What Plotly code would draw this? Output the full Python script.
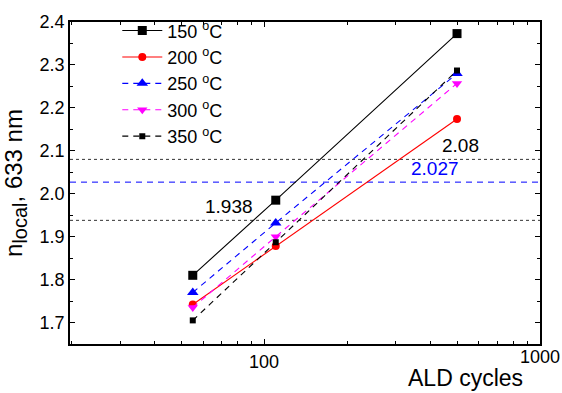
import plotly.graph_objects as go

# ALD cycles and local refractive index at 633 nm per deposition temperature
cycles = [55, 110, 500]
labels = ["150 <sup>o</sup>C", "200 <sup>o</sup>C", "250 <sup>o</sup>C", "300 <sup>o</sup>C", "350 <sup>o</sup>C"]
n_150 = [1.810, 1.985, 2.373]
n_200 = [1.742, 1.878, 2.174]
n_250 = [1.770, 1.932, 2.280]
n_300 = [1.735, 1.900, 2.257]
n_350 = [1.705, 1.887, 2.287]

# reference index levels
ref_levels = [2.08, 2.027, 1.938]
ref_texts = ["2.08", "2.027", "1.938"]

# x tick labels
xtick_vals = [100, 1000]
xtick_text = ["100", "1000"]

series = [n_150, n_200, n_250, n_300, n_350]
colors = ["black", "red", "blue", "magenta", "black"]
dashes = ["solid", "solid", "6px,5px", "6px,5px", "6px,5px"]
symbols = ["square", "circle", "triangle-up", "triangle-down", "square"]
msizes = [9, 8, 10, 9, 6]

FONT = "Liberation Sans, Arial, sans-serif"

fig = go.Figure()

# horizontal reference lines
ref_colors = ["#333333", "blue", "#333333"]
ref_dash = ["3px,3px", "6px,5px", "3px,3px"]
for lvl, c, d in zip(ref_levels, ref_colors, ref_dash):
    fig.add_shape(type="line", xref="paper", x0=0, x1=1, yref="y", y0=lvl, y1=lvl,
                  line=dict(color=c, width=1, dash=d), layer="below")

for name, ys, c, d, s, ms in zip(labels, series, colors, dashes, symbols, msizes):
    fig.add_trace(go.Scatter(
        x=cycles, y=ys, name=name, mode="lines+markers",
        line=dict(color=c, width=1.1, dash=d),
        marker=dict(symbol=s, size=ms, color=c),
    ))

# value labels on the reference lines (x given in log10 units)
label_x = [2.71, 2.62, 1.872]
label_colors = ["black", "blue", "black"]
for lx, lvl, txt, c in zip(label_x, ref_levels, ref_texts, label_colors):
    fig.add_annotation(x=lx, y=lvl, xref="x", yref="y", text=txt,
                       showarrow=False, yanchor="bottom", yshift=1,
                       font=dict(size=19, color=c, family=FONT))

# x tick labels; the upper decade label sits slightly higher
fig.add_annotation(x=2.0, y=0, xref="x", yref="paper", text=xtick_text[0],
                   showarrow=False, yanchor="top", yshift=-6,
                   font=dict(size=18, color="black", family=FONT))
fig.add_annotation(x=3.0, y=0, xref="x", yref="paper", text=xtick_text[1],
                   showarrow=False, yanchor="top", yshift=-1,
                   font=dict(size=18, color="black", family=FONT))

# x axis title placed at the lower right
fig.add_annotation(x=0.968, y=-0.058, xref="paper", yref="paper", text="ALD cycles",
                   showarrow=False, xanchor="right", yanchor="top",
                   font=dict(size=23, color="black", family=FONT))

axis_common = dict(
    showline=True, linecolor="black", linewidth=1.6, mirror="ticks",
    ticks="inside", ticklen=5, tickcolor="black", tickwidth=1,
    showgrid=False, zeroline=False,
    tickfont=dict(size=18, color="black", family=FONT),
)

fig.update_xaxes(
    type="log", range=[1.295, 3.0],
    tickvals=xtick_vals, ticktext=["", ""],
    minor=dict(ticks="inside", ticklen=3, tickcolor="black",
               tickvals=[20, 30, 40, 50, 60, 70, 80, 90, 200, 300, 400, 500, 600, 700, 800, 900]),
    **axis_common,
)
fig.update_yaxes(
    range=[1.65, 2.4], tickvals=[1.7, 1.8, 1.9, 2.0, 2.1, 2.2, 2.3, 2.4],
    tickformat=".1f",
    minor=dict(ticks="inside", ticklen=3, tickcolor="black", dtick=0.05),
    title=dict(text="n<sub><span style='font-size:20px'>local</span></sub>, 633 nm", standoff=12,
               font=dict(size=24, color="black", family=FONT)),
    **axis_common,
)

fig.update_layout(
    width=562, height=393,
    margin=dict(l=70, r=22, t=14, b=49),
    plot_bgcolor="white", paper_bgcolor="white",
    font=dict(family=FONT, color="black"),
    legend=dict(x=0.1006, y=1.03, xanchor="left", yanchor="top",
                bgcolor="rgba(0,0,0,0)", borderwidth=0,
                font=dict(size=18, family=FONT, color="black"),
                itemwidth=40, tracegroupgap=0),
)

fig.write_html("out.html")
